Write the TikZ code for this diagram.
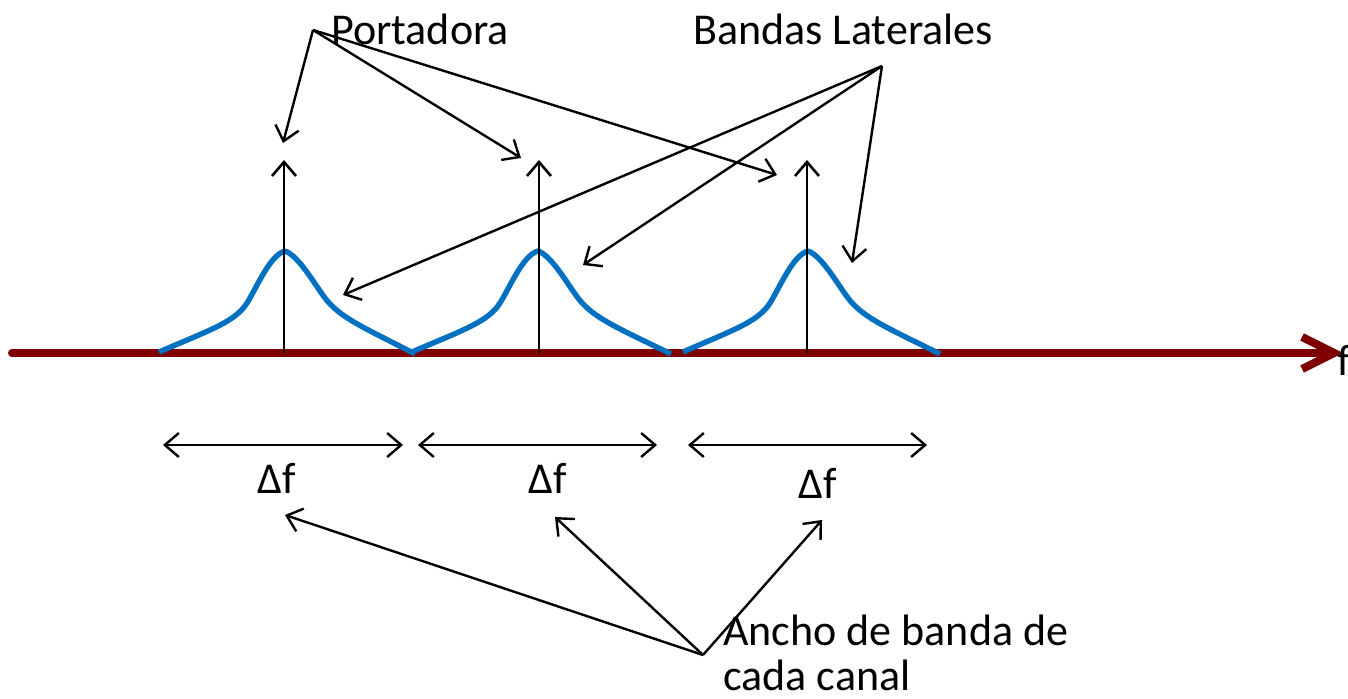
\documentclass[tikz,border=0pt]{standalone}
\usepackage{fontspec}
\setmainfont{Carlito}
\usetikzlibrary{arrows.meta,calc}
\definecolor{axisred}{HTML}{7F0000}
\definecolor{bumpblue}{HTML}{0070C0}
\tikzstyle{leader}=[line width=1.2pt,-{Straight Barb[length=7pt,width=12pt]}]
\tikzstyle{span}=[line width=1.2pt,{Straight Barb[length=7pt,width=12pt]}-{Straight Barb[length=7pt,width=12pt]}]
\tikzstyle{carrier}=[line width=1.3pt,-{Straight Barb[length=7pt,width=12pt]}]
\tikzstyle{freqaxis}=[axisred,line width=4pt,line cap=round,line join=round,-{Straight Barb[length=16pt,width=16pt]}]
\tikzstyle{bump}=[bumpblue,line width=2.7pt,line join=round]
\tikzstyle{lbl}=[inner sep=0pt,font=\fontsize{22}{23.5}\selectfont]
\newcommand{\drawbump}[3]{% Syntax: {start x}{peak x}{end x}
\draw[bump] (#1,352) .. controls (#2-75,330) and (#2-50,322) .. (#2-38,303)
  .. controls (#2-28,287) and (#2-15,255) .. (#2,251)
  .. controls (#2+14,256) and (#2+30,285) .. (#2+40,298)
  .. controls (#2+55,318) and (#2+80,328) .. (#3,354);
}

\begin{document}
\begin{tikzpicture}[x=0.5pt,y=-0.5pt]
\useasboundingbox (0,0) rectangle (1348,699);
% frequency axis
\draw[freqaxis] (12,353) coordinate (ax0) -- (1343,353) coordinate (ax1);
\node[lbl,anchor=base west] (flabel) at (1337,376) {f};
% channels
\drawbump{159}{285}{415}
\drawbump{412}{538}{671}
\drawbump{683}{808}{940}
\foreach \c/\x in {1/284,2/539,3/807} {
  \coordinate (base\c) at (\x,353);
  \coordinate (top\c) at (\x,160);
  \draw[carrier] (base\c) -- (top\c);
}
% labels
\node[lbl,anchor=base] (portadora) at (420,45) {Portadora};
\node[lbl,anchor=base] (bandas) at (843,45) {Bandas Laterales};
\coordinate (porto) at (313,30);
\coordinate (bando) at (882,66);
\coordinate (p1) at (283,143);
\coordinate (p2) at (521,158);
\coordinate (p3) at (777,175);
\coordinate (b1) at (343,295);
\coordinate (b2) at (583,265);
\coordinate (b3) at (852,263);
\foreach \t in {p1,p2,p3} \draw[leader] (porto) -- (\t);
\foreach \t in {b1,b2,b3} \draw[leader] (bando) -- (\t);
% bandwidth of each channel
\foreach \c/\a/\b/\m/\yy in {1/163/403/277/494,2/418/657/548/494,3/688/927/818/499} {
  \coordinate (sl\c) at (\a,445);
  \coordinate (sr\c) at (\b,445);
  \draw[span] (sl\c) -- (sr\c);
  \node[lbl,anchor=base] (df\c) at (\m,\yy) {Δf};
}
\node[lbl,anchor=base west] (ancho1) at (723,645) {Ancho de banda de};
\node[lbl,anchor=base west] (ancho2) at (723,690) {cada canal};
\coordinate (anchoo) at (703,655);
\coordinate (a1) at (285,515);
\coordinate (a2) at (555,517);
\coordinate (a3) at (822,520);
\foreach \t in {a1,a2,a3} \draw[leader] (anchoo) -- (\t);
\end{tikzpicture}
\end{document}
